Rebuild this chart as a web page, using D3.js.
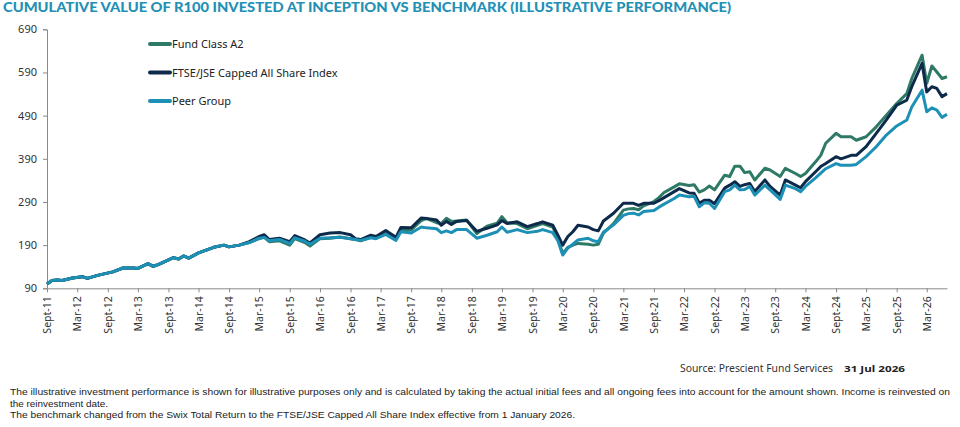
<!DOCTYPE html>
<html>
<head>
<meta charset="utf-8">
<script src="https://cdn.jsdelivr.net/npm/d3@7"></script>
<style>
  body { margin: 0; background: #fff; }
  svg { display: block; }
</style>
</head>
<body>
<script>
// Data (month, value)
var dates = ["2011-09","2011-10","2011-11","2011-12","2012-02","2012-04","2012-05","2012-07","2012-10","2012-12",
  "2013-02","2013-03","2013-05","2013-06","2013-07","2013-10","2013-11","2013-12","2014-01","2014-03",
  "2014-06","2014-08","2014-09","2014-11","2015-01","2015-03","2015-04","2015-05","2015-07","2015-09",
  "2015-10","2015-12","2016-01","2016-03","2016-05","2016-07","2016-09","2016-10","2016-11","2017-01",
  "2017-02","2017-04","2017-06","2017-07","2017-09","2017-11","2017-12","2018-02","2018-03","2018-04",
  "2018-05","2018-06","2018-08","2018-10","2018-12","2019-02","2019-03","2019-04","2019-06","2019-08",
  "2019-10","2019-11","2020-01","2020-02","2020-03","2020-04","2020-05","2020-06","2020-08","2020-09",
  "2020-10","2020-11","2021-01","2021-03","2021-04","2021-05","2021-06","2021-07","2021-09","2021-10",
  "2021-11","2022-01","2022-02","2022-04","2022-05","2022-06","2022-07","2022-08","2022-09","2022-11",
  "2022-12","2023-01","2023-02","2023-03","2023-04","2023-05","2023-07","2023-08","2023-10","2023-11",
  "2024-01","2024-02","2024-03","2024-05","2024-06","2024-07","2024-09","2024-10","2024-12","2025-01",
  "2025-03","2025-05","2025-07","2025-09","2025-11","2025-12","2026-02","2026-03","2026-04","2026-05",
  "2026-06","2026-07"];

var fundA2 = [100,108,109,108,114,117,113,120,128,137,
  137,136,147,141,145,161,158,165,160,172,
  185,190,186,190,196,205,208,198,200,190,
  205,196,188,205,206,209,205,203,200,208,
  206,218,204,224,225,247,252,242,240,252,
  245,246,248,217,234,241,256,242,240,228,
  236,240,232,205,170,185,190,194,192,190,
  192,218,240,271,274,275,272,281,291,300,
  312,325,332,328,330,313,318,327,318,352,
  349,373,373,358,360,341,368,364,349,368,
  356,349,356,383,398,426,449,441,441,433,
  441,464,491,518,541,576,630,565,605,591,
  576,580];

var benchmark = [100,108,109,108,114,117,113,120,128,137,
  137,136,147,141,145,161,158,165,160,172,
  185,190,186,190,198,210,214,203,206,198,
  212,202,195,214,218,219,214,205,203,213,
  210,224,208,231,230,253,252,248,236,245,
  238,245,247,222,229,237,247,240,244,233,
  240,244,236,213,190,210,221,236,232,226,
  223,246,264,287,287,287,282,287,287,293,
  300,314,321,311,310,287,294,294,286,322,
  329,337,326,330,333,314,341,326,306,341,
  329,323,337,360,372,379,395,390,398,398,
  418,449,480,514,526,557,611,545,557,553,
  534,541];

var peerGroup = [100,108,109,108,114,117,113,120,128,137,
  137,136,147,141,145,161,158,165,160,172,
  185,190,186,190,196,206,208,200,203,194,
  207,199,192,206,207,208,205,203,201,207,
  205,215,201,221,218,232,230,228,219,223,
  219,226,226,206,213,221,232,220,226,219,
  222,226,219,200,167,183,192,202,206,200,
  198,220,237,259,263,264,260,268,270,278,
  285,298,306,302,303,279,288,287,275,314,
  318,329,318,319,326,306,329,318,296,329,
  321,314,326,346,357,367,379,375,375,377,
  395,418,445,466,480,510,549,499,508,503,
  486,493];

var yTicks = [90,190,290,390,490,590,690];
var seriesNames = ["Fund Class A2", "FTSE/JSE Capped All Share Index", "Peer Group"];
var seriesColors = ["#2e7a66", "#0e2a4b", "#1d90b6"];

var W = 960, H = 427;
var parse = d3.timeParse("%Y-%m");

var svg = d3.select("body").append("svg")
  .attr("width", W)
  .attr("height", H);

// Titel
svg.append("text")
  .attr("x", 3)
  .attr("y", 12)
  .attr("font-family", "Lato, 'Open Sans', sans-serif")
  .attr("font-weight", 900)
  .attr("font-size", "12.2px")
  .attr("fill", "#2390b5")
  .attr("textLength", 728)
  .attr("lengthAdjust", "spacingAndGlyphs")
  .text("CUMULATIVE VALUE OF R100 INVESTED AT INCEPTION VS BENCHMARK (ILLUSTRATIVE PERFORMANCE)");

// Skalaer
var x = d3.scaleTime()
  .domain([parse("2011-09"), parse("2026-07")])
  .range([47, 947]);

var y = d3.scaleLinear()
  .domain([90, 690])
  .range([288.3, 29.3]);

// Y-akse
var yAxis = svg.append("g")
  .attr("transform", "translate(47,0)")
  .call(d3.axisLeft(y).tickValues(yTicks).tickSize(4).tickPadding(6).tickFormat(d3.format("d")));
yAxis.select(".domain").attr("stroke", "#8a8a8a");
yAxis.selectAll(".tick line").attr("stroke", "#8a8a8a");
yAxis.selectAll(".tick text")
  .attr("font-family", "'Noto Sans', sans-serif")
  .attr("font-size", "11px")
  .attr("fill", "#333");

// X-akse med halvårlige tick
var xTicks = [];
for (var d = parse("2011-09"); d <= parse("2026-03"); d = d3.timeMonth.offset(d, 6)) xTicks.push(d);

var xAxis = svg.append("g")
  .attr("transform", "translate(0,288.3)")
  .call(d3.axisBottom(x).tickValues(xTicks).tickSize(4).tickSizeOuter(0)
    .tickFormat(function(d) { return (d.getMonth() === 8 ? "Sept" : "Mar") + "-" + d3.timeFormat("%y")(d); }));
xAxis.select(".domain").attr("stroke", "#8a8a8a");
xAxis.selectAll(".tick line").attr("stroke", "#8a8a8a");
xAxis.selectAll(".tick text")
  .attr("font-family", "'Noto Sans', sans-serif")
  .attr("font-size", "10.5px")
  .attr("fill", "#333")
  .attr("text-anchor", "end")
  .attr("transform", "translate(0,8) rotate(-90)")
  .attr("x", 0)
  .attr("y", 0)
  .attr("dy", "0.35em");

// Linjer
var line = d3.line()
  .x(function(d) { return x(d.date); })
  .y(function(d) { return y(d.value); });

var allSeries = [fundA2, benchmark, peerGroup];
allSeries.forEach(function(values, i) {
  var pts = dates.map(function(s, j) { return { date: parse(s), value: values[j] }; });
  svg.append("path")
    .datum(pts)
    .attr("fill", "none")
    .attr("stroke", seriesColors[i])
    .attr("stroke-width", 3)
    .attr("stroke-linejoin", "round")
    .attr("d", line);
});

// Legende
var legend = svg.append("g");
seriesNames.forEach(function(name, i) {
  var ly = 44 + i * 28.5;
  legend.append("line")
    .attr("x1", 150).attr("x2", 170)
    .attr("y1", ly).attr("y2", ly)
    .attr("stroke", seriesColors[i])
    .attr("stroke-width", 4)
    .attr("stroke-linecap", "round");
  legend.append("text")
    .attr("x", 172)
    .attr("y", ly + 4)
    .attr("font-family", "'Noto Sans', sans-serif")
    .attr("font-size", "11px")
    .attr("fill", "#222")
    .text(name);
});

// Kilde
svg.append("text")
  .attr("x", 680).attr("y", 372)
  .attr("font-family", "'Noto Sans', sans-serif")
  .attr("font-size", "10.5px")
  .attr("fill", "#333")
  .attr("textLength", 153)
  .attr("lengthAdjust", "spacingAndGlyphs")
  .text("Source: Prescient Fund Services");
svg.append("text")
  .attr("x", 844).attr("y", 372)
  .attr("font-family", "'Noto Sans', sans-serif")
  .attr("font-weight", "bold")
  .attr("font-size", "9.5px")
  .attr("fill", "#222")
  .attr("textLength", 61)
  .attr("lengthAdjust", "spacingAndGlyphs")
  .text("31 Jul 2026");

// Fodnote
var notes = [
  { t: "The illustrative investment performance is shown for illustrative purposes only and is calculated by taking the actual initial fees and all ongoing fees into account for the amount shown. Income is reinvested on", w: 940 },
  { t: "the reinvestment date.", w: 98 },
  { t: "The benchmark changed from the Swix Total Return to the FTSE/JSE Capped All Share Index effective from 1 January 2026.", w: 565 }
];
notes.forEach(function(n, i) {
  svg.append("text")
    .attr("x", 10)
    .attr("y", 395 + i * 11.5)
    .attr("font-family", "'Liberation Sans Narrow', 'Liberation Sans', sans-serif")
    .attr("font-size", "9px")
    .attr("fill", "#222")
    .attr("textLength", n.w)
    .attr("lengthAdjust", "spacingAndGlyphs")
    .text(n.t);
});
</script>
</body>
</html>
